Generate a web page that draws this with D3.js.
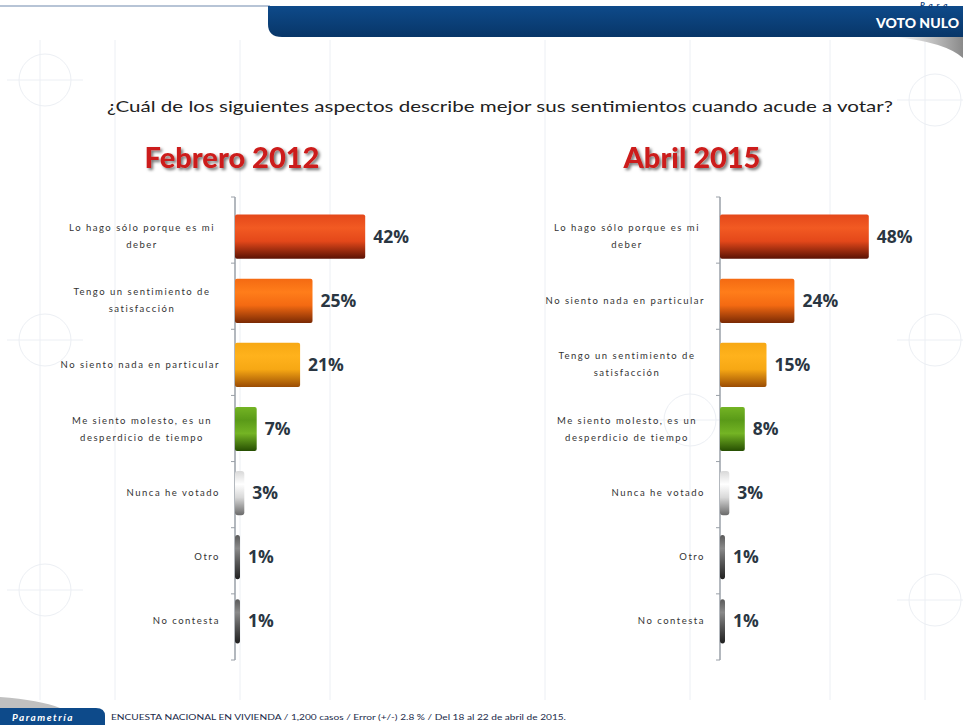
<!DOCTYPE html>
<html>
<head>
<meta charset="utf-8">
<script src="https://cdn.jsdelivr.net/npm/d3@7"></script>
<style>
	body { margin: 0; background: #fff; }
	svg { display: block; font-family: Lato, "Open Sans", sans-serif; }
</style>
</head>
<body>
<svg width="963" height="725"></svg>
<script>
const question = "¿Cuál de los siguientes aspectos describe mejor sus sentimientos cuando acude a votar?";

const titles2012 = "Febrero 2012";
const titles2015 = "Abril 2015";

const categories2012 = [
	"Lo hago sólo porque es mi\ndeber",
	"Tengo un sentimiento de\nsatisfacción",
	"No siento nada en particular",
	"Me siento molesto, es un\ndesperdicio de tiempo",
	"Nunca he votado",
	"Otro",
	"No contesta"
];
const values2012 = [42, 25, 21, 7, 3, 1, 1];

const categories2015 = [
	"Lo hago sólo porque es mi\ndeber",
	"No siento nada en particular",
	"Tengo un sentimiento de\nsatisfacción",
	"Me siento molesto, es un\ndesperdicio de tiempo",
	"Nunca he votado",
	"Otro",
	"No contesta"
];
const values2015 = [48, 24, 15, 8, 3, 1, 1];

// colour per rank (same order in both panels)
const barColors = [
	["#e4481a", "#f25a22", "#5a1204"],
	["#f46a12", "#ff7d1a", "#7a2a04"],
	["#f7a814", "#ffb21c", "#9a4c04"],
	["#74b424", "#5a9a18", "#264e02"],
	["#d8d8d8", "#ffffff", "#6a6a6a"],
	["#5a5a5a", "#8a8a8a", "#202020"],
	["#5a5a5a", "#8a8a8a", "#202020"]
];

const footer = "ENCUESTA  NACIONAL EN VIVIENDA  / 1,200 casos / Error (+/-) 2.8 % / Del 18 al 22 de abril de 2015.";

const svg = d3.select("svg");
const defs = svg.append("defs");

barColors.forEach((c, i) => {
	let g = defs.append("linearGradient")
		.attr("id", "bar" + i)
		.attr("x1", 0).attr("y1", 0).attr("x2", 0).attr("y2", 1);
	g.append("stop").attr("offset", "0%").attr("stop-color", c[0]);
	g.append("stop").attr("offset", "30%").attr("stop-color", c[1]);
	g.append("stop").attr("offset", "60%").attr("stop-color", c[0]);
	g.append("stop").attr("offset", "100%").attr("stop-color", c[2]);
});

let hdr = defs.append("linearGradient").attr("id", "hdr")
	.attr("x1", 0).attr("y1", 0).attr("x2", 0).attr("y2", 1);
hdr.append("stop").attr("offset", "0%").attr("stop-color", "#0e4a8a");
hdr.append("stop").attr("offset", "100%").attr("stop-color", "#083668");

let swoosh = defs.append("linearGradient").attr("id", "swoosh")
	.attr("x1", 0).attr("y1", 0).attr("x2", 1).attr("y2", 0);
swoosh.append("stop").attr("offset", "0%").attr("stop-color", "#ffffff");
swoosh.append("stop").attr("offset", "100%").attr("stop-color", "#8a8a8a");

let shadow = defs.append("filter").attr("id", "shadow")
	.attr("x", "-10%").attr("y", "-20%").attr("width", "130%").attr("height", "160%");
shadow.append("feDropShadow").attr("dx", 2).attr("dy", 2).attr("stdDeviation", 1.5)
	.attr("flood-color", "#000").attr("flood-opacity", 0.55);

// faint watermark background
const wm = svg.append("g").attr("stroke", "#eceff4").attr("fill", "none").attr("stroke-width", 1);
[40, 115, 240, 330, 545, 690, 830, 925].forEach(x => {
	wm.append("line").attr("x1", x).attr("x2", x).attr("y1", 40).attr("y2", 700);
});
[[45, 80], [45, 340], [45, 590], [935, 100], [935, 340], [935, 600], [690, 420]].forEach(p => {
	wm.append("circle").attr("cx", p[0]).attr("cy", p[1]).attr("r", 26);
	wm.append("line").attr("x1", p[0] - 38).attr("x2", p[0] + 38).attr("y1", p[1]).attr("y2", p[1]);
});

// header band
svg.append("line").attr("x1", 0).attr("x2", 270).attr("y1", 6).attr("y2", 6)
	.attr("stroke", "#9fb0c8").attr("stroke-width", 1.5);
svg.append("path")
	.attr("d", "M268,6 H963 V37 H282 Q268,37 268,24 Z")
	.attr("fill", "url(#hdr)");
svg.append("path")
	.attr("d", "M895,37 H963 V58 Q945,42 895,37 Z")
	.attr("fill", "url(#swoosh)");
svg.append("text").attr("x", 959).attr("y", 28).attr("text-anchor", "end")
	.attr("font-weight", 900).attr("font-size", 14).attr("fill", "#fff").text("VOTO NULO");
svg.append("text").attr("x", 920).attr("y", 8).attr("font-style", "italic")
	.attr("font-weight", 700).attr("font-size", 8).attr("fill", "#0e3f7c")
	.attr("letter-spacing", 4).text("Para");

// question
svg.append("text").attr("x", 107).attr("y", 112)
	.attr("font-size", 16).attr("fill", "#222")
	.attr("textLength", 786).attr("lengthAdjust", "spacingAndGlyphs")
	.text(question);

const scaleX = d3.scaleLinear().domain([0, 50]).range([0, 155]);

function panel(x0, title, titleX, cats, vals) {
	let g = svg.append("g").attr("transform", "translate(" + x0 + ",0)");

	svg.append("text").attr("x", titleX).attr("y", 168).attr("text-anchor", "middle")
		.attr("font-weight", 900).attr("font-size", 29).attr("fill", "#cc1f1a")
		.attr("filter", "url(#shadow)").text(title);

	let scaleY = d3.scaleBand().domain(cats).range([205, 653]).paddingInner(0.31).paddingOuter(0.15);

	// axis
	let axis = g.append("g").call(d3.axisLeft(scaleY).tickSize(0).tickFormat(""));
	axis.select(".domain").attr("d", "M0,197V660").attr("stroke", "#9aa0a8").attr("stroke-width", 1.5);
	d3.range(cats.length + 1).forEach(i => {
		let y = 197 + i * 463 / cats.length;
		axis.append("line").attr("x1", -4).attr("x2", 0).attr("y1", y).attr("y2", y)
			.attr("stroke", "#9aa0a8");
	});

	// bars
	g.selectAll("rect.bar").data(vals).join("rect")
		.attr("class", "bar")
		.attr("x", 0)
		.attr("y", (d, i) => scaleY(cats[i]))
		.attr("width", d => Math.max(scaleX(d), 5))
		.attr("height", scaleY.bandwidth())
		.attr("rx", (d) => d < 5 ? 3 : 2)
		.attr("fill", (d, i) => "url(#bar" + i + ")");

	// value labels
	g.selectAll("text.val").data(vals).join("text")
		.attr("class", "val")
		.attr("x", d => Math.max(scaleX(d), 5) + 8)
		.attr("y", (d, i) => scaleY(cats[i]) + scaleY.bandwidth() / 2 + 6)
		.attr("font-family", "Open Sans, sans-serif").attr("font-weight", 700)
		.attr("font-size", 17.5).attr("fill", "#2a3642")
		.text(d => d + "%");

	// category labels
	g.selectAll("text.cat").data(cats).join("text")
		.attr("class", "cat")
		.attr("font-size", 9.5).attr("letter-spacing", 1.5).attr("fill", "#333")
		.each(function (d) {
			let lines = d.split("\n");
			let cy = scaleY(d) + scaleY.bandwidth() / 2;
			let t = d3.select(this);
			t.attr("text-anchor", lines.length > 1 ? "middle" : "end");
			lines.forEach((ln, k) => {
				t.append("tspan")
					.attr("x", lines.length > 1 ? -93 : -15)
					.attr("y", cy + 3 + (k - (lines.length - 1) / 2) * 17)
					.text(ln);
			});
		});
}

panel(235, titles2012, 232, categories2012, values2012);
panel(720, titles2015, 692, categories2015, values2015);

// footer
svg.append("path").attr("d", "M0,697 Q40,700 60,708 H0 Z").attr("fill", "#c0c0c0");
svg.append("path").attr("d", "M0,708 H96 Q105,708 105,716 V725 H0 Z").attr("fill", "#0d4a8a");
svg.append("text").attr("x", 12).attr("y", 721)
	.attr("font-style", "italic").attr("font-weight", 700).attr("font-size", 10)
	.attr("letter-spacing", 1.5).attr("fill", "#fff").text("Parametría");
svg.append("text").attr("x", 111).attr("y", 720)
	.attr("font-size", 8).attr("fill", "#1a2a4a")
	.attr("textLength", 455).attr("lengthAdjust", "spacingAndGlyphs")
	.text(footer);
</script>
</body>
</html>
